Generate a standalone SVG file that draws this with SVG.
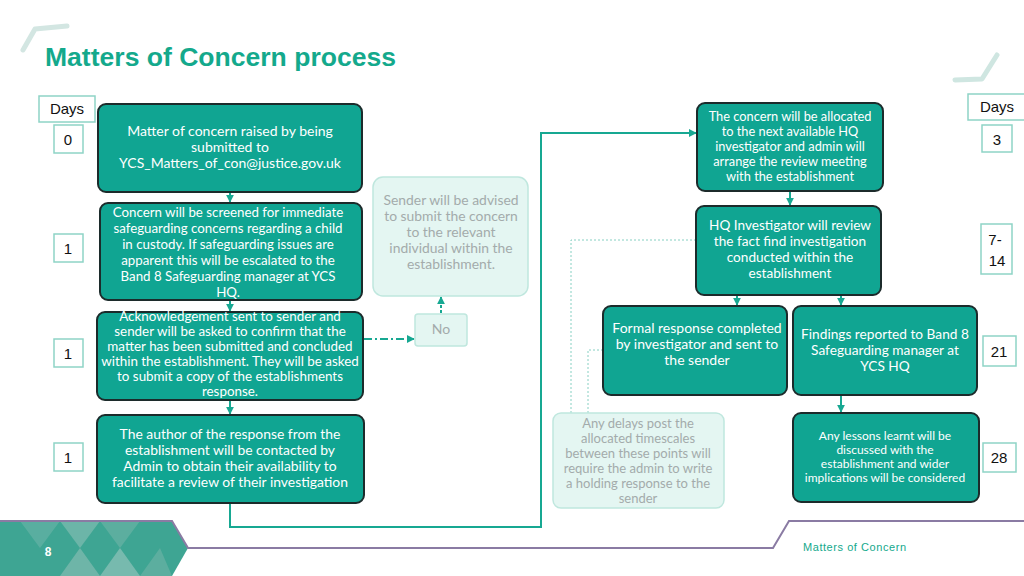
<svg xmlns="http://www.w3.org/2000/svg" width="1024" height="576" viewBox="0 0 1024 576">
<defs>
<style>
.box{fill:#10a592;stroke:#1c2b2b;stroke-width:2}
.lt{fill:#e4f6f2;stroke:#bfe7de;stroke-width:1.5}
.day{fill:#fff;stroke:#8ed4c6;stroke-width:1.5}
.dt{font-family:"Liberation Sans",Arial,sans-serif;font-size:15px;fill:#111;text-anchor:middle}
.wt{font-family:Lato,"Open Sans",sans-serif;fill:#fff;text-anchor:middle}
.gt{font-family:Lato,"Open Sans",sans-serif;fill:#a3abab;text-anchor:middle}
.arr{stroke:#17a892;stroke-width:2;fill:none}
.dot{stroke:#86d0c2;stroke-width:1;fill:none;stroke-dasharray:2 2}
</style>
<marker id="ah" viewBox="0 0 10 10" refX="9" refY="5" markerWidth="4" markerHeight="4" orient="auto-start-reverse">
<path d="M0,0 L10,5 L0,10 z" fill="#17a892"/>
</marker>
</defs>
<rect width="1024" height="576" fill="#fff"/>

<!-- decorations -->
<polyline points="23,50 35,29 67,26" fill="none" stroke="#d3e6e2" stroke-width="5" stroke-linecap="round" stroke-linejoin="round"/>
<polyline points="955,80 982,79 997,55" fill="none" stroke="#cfe6e1" stroke-width="5" stroke-linecap="round" stroke-linejoin="round"/>
<text x="45" y="66" font-family="Liberation Sans,Arial,sans-serif" font-weight="bold" font-size="25" fill="#14a98c" textLength="351" lengthAdjust="spacingAndGlyphs">Matters of Concern process</text>

<!-- days -->
<g id="days">
<rect class="day" x="39" y="96" width="56" height="26"/><text class="dt" x="67" y="114">Days</text>
<rect class="day" x="54" y="125" width="29" height="28"/><text class="dt" x="68" y="145">0</text>
<rect class="day" x="54" y="234" width="29" height="28"/><text class="dt" x="68" y="254">1</text>
<rect class="day" x="54" y="339" width="29" height="28"/><text class="dt" x="68" y="359">1</text>
<rect class="day" x="54" y="443" width="29" height="28"/><text class="dt" x="68" y="463">1</text>
<rect class="day" x="968" y="94" width="58" height="26"/><text class="dt" x="997" y="112">Days</text>
<rect class="day" x="982" y="125" width="30" height="27"/><text class="dt" x="997" y="145">3</text>
<rect class="day" x="981" y="224" width="31" height="50"/><text class="dt" x="995" y="245">7-</text><text class="dt" x="997" y="266">14</text>
<rect class="day" x="983" y="336" width="33" height="30"/><text class="dt" x="999" y="357">21</text>
<rect class="day" x="983" y="443" width="33" height="29"/><text class="dt" x="999" y="463">28</text>
</g>

<!-- connectors -->
<g id="connectors">
<line class="arr" x1="230" y1="193" x2="230" y2="202" marker-end="url(#ah)"/>
<line class="arr" x1="230" y1="301" x2="230" y2="311" marker-end="url(#ah)"/>
<line class="arr" x1="230" y1="401" x2="230" y2="414" marker-end="url(#ah)"/>
<polyline class="arr" points="230,504 230,527 541,527 541,133 696,133" stroke-width="2.5" marker-end="url(#ah)"/>
<line class="arr" x1="364" y1="339" x2="414" y2="339" stroke-width="1.5" stroke-dasharray="8 3 2 3" marker-end="url(#ah)"/>
<line class="arr" x1="441" y1="313" x2="441" y2="297" stroke-width="1.5" stroke-dasharray="3 2" marker-end="url(#ah)"/>
<line class="arr" x1="790" y1="192" x2="790" y2="205" marker-end="url(#ah)"/>
<line class="arr" x1="737" y1="296" x2="737" y2="305" marker-end="url(#ah)"/>
<line class="arr" x1="841" y1="296" x2="841" y2="305" marker-end="url(#ah)"/>
<line class="arr" x1="841" y1="396" x2="841" y2="412" marker-end="url(#ah)"/>
<polyline class="dot" points="696,240 571,240 571,413"/>
<polyline class="dot" points="603,350 588,350 588,413"/>
</g>

<g id="n1">
<rect class="box" x="98" y="104" width="264" height="88" rx="8"/>
<text class="wt" font-size="14"><tspan x="230" y="136">Matter of concern raised by being</tspan><tspan x="230" y="152">submitted to</tspan><tspan x="230" y="168">YCS_Matters_of_con@justice.gov.uk</tspan></text>
</g>
<g id="n2">
<rect class="box" x="100" y="203" width="262" height="97" rx="8"/>
<text class="wt" font-size="13.3"><tspan x="228" y="217">Concern will be screened for immediate</tspan><tspan x="228" y="233">safeguarding concerns regarding a child</tspan><tspan x="228" y="249">in custody. If safeguarding issues are</tspan><tspan x="228" y="265">apparent this will be escalated to the</tspan><tspan x="228" y="281">Band 8 Safeguarding manager at YCS</tspan><tspan x="228" y="297">HQ.</tspan></text>
</g>
<g id="n3">
<rect class="box" x="97" y="312" width="266" height="88" rx="8"/>
<text class="wt" font-size="13.4"><tspan x="230" y="321">Acknowledgement sent to sender and</tspan><tspan x="230" y="336">sender will be asked to confirm that the</tspan><tspan x="230" y="351">matter has been submitted and concluded</tspan><tspan x="230" y="366">within the establishment. They will be asked</tspan><tspan x="230" y="381">to submit a copy of the establishments</tspan><tspan x="230" y="396">response.</tspan></text>
</g>
<g id="n4">
<rect class="box" x="97" y="415" width="267" height="88" rx="8"/>
<text class="wt" font-size="13.9"><tspan x="230" y="439">The author of the response from the</tspan><tspan x="230" y="455">establishment will be contacted by</tspan><tspan x="230" y="471">Admin to obtain their availability to</tspan><tspan x="230" y="487">facilitate a review of their investigation</tspan></text>
</g>
<g id="n5">
<rect class="lt" x="373" y="177" width="155" height="119" rx="10"/>
<text class="gt" font-size="13.9"><tspan x="451" y="205">Sender will be advised</tspan><tspan x="451" y="221">to submit the concern</tspan><tspan x="451" y="237">to the relevant</tspan><tspan x="451" y="253">individual within the</tspan><tspan x="451" y="269">establishment.</tspan></text>
</g>
<g id="n6">
<rect class="lt" x="415" y="314" width="52" height="32" rx="3"/>
<text class="gt" font-size="14" x="441" y="334">No</text>
</g>
<g id="n7">
<rect class="box" x="697" y="103" width="186" height="88" rx="8"/>
<text class="wt" font-size="12.8"><tspan x="790" y="121">The concern will be allocated</tspan><tspan x="790" y="136">to the next available HQ</tspan><tspan x="790" y="151">investigator and admin will</tspan><tspan x="790" y="166">arrange the review meeting</tspan><tspan x="790" y="181">with the establishment</tspan></text>
</g>
<g id="n8">
<rect class="box" x="696" y="206" width="185" height="89" rx="8"/>
<text class="wt" font-size="13.6"><tspan x="790" y="230">HQ Investigator will review</tspan><tspan x="790" y="246">the fact find investigation</tspan><tspan x="790" y="262">conducted within the</tspan><tspan x="790" y="278">establishment</tspan></text>
</g>
<g id="n9">
<rect class="box" x="603" y="306" width="184" height="89" rx="8"/>
<text class="wt" font-size="14"><tspan x="697" y="333">Formal response completed</tspan><tspan x="697" y="349">by investigator and sent to</tspan><tspan x="697" y="365">the sender</tspan></text>
</g>
<g id="n10">
<rect class="box" x="793" y="306" width="184" height="89" rx="8"/>
<text class="wt" font-size="13.7"><tspan x="885" y="339">Findings reported to Band 8</tspan><tspan x="885" y="355">Safeguarding manager at</tspan><tspan x="885" y="371">YCS HQ</tspan></text>
</g>
<g id="n11">
<rect class="box" x="793" y="413" width="186" height="89" rx="8"/>
<text class="wt" font-size="12"><tspan x="885" y="440">Any lessons learnt will be</tspan><tspan x="885" y="454">discussed with the</tspan><tspan x="885" y="468">establishment and wider</tspan><tspan x="885" y="482">implications will be considered</tspan></text>
</g>
<g id="n12">
<rect class="lt" x="553" y="413" width="171" height="95" rx="8"/>
<text class="gt" font-size="13"><tspan x="638" y="428">Any delays post the</tspan><tspan x="638" y="443">allocated timescales</tspan><tspan x="638" y="458">between these points will</tspan><tspan x="638" y="473">require the admin to write</tspan><tspan x="638" y="488">a holding response to the</tspan><tspan x="638" y="503">sender</tspan></text>
</g>

<!-- footer -->
<g id="footer">
<polygon points="0,521 172,521 188,548 172,576 0,576" fill="#3ea593"/>
<polygon points="20,521 60,521 40,548" fill="#6cb4a8" opacity="0.6"/>
<polygon points="60,521 100,521 80,548" fill="#8cc0b6" opacity="0.6"/>
<polygon points="100,521 140,521 120,548" fill="#7ab7ac" opacity="0.5"/>
<polygon points="60,576 80,548 100,576" fill="#8fc0b6" opacity="0.6"/>
<polygon points="100,576 120,548 140,576" fill="#9fc8bf" opacity="0.6"/>
<polygon points="140,576 160,548 172,576" fill="#7ab7ac" opacity="0.5"/>
<polyline points="0,521 172,521 188,548 773,548 789,521 1024,521" fill="none" stroke="#8a7ba3" stroke-width="2"/>
<text x="48" y="556" font-family="Liberation Sans,Arial,sans-serif" font-weight="bold" font-size="12" fill="#fff" text-anchor="middle">8</text>
<text x="803" y="551" font-family="Liberation Sans,Arial,sans-serif" font-size="11" fill="#14a98c" textLength="103">Matters of Concern</text>
</g>
</svg>
